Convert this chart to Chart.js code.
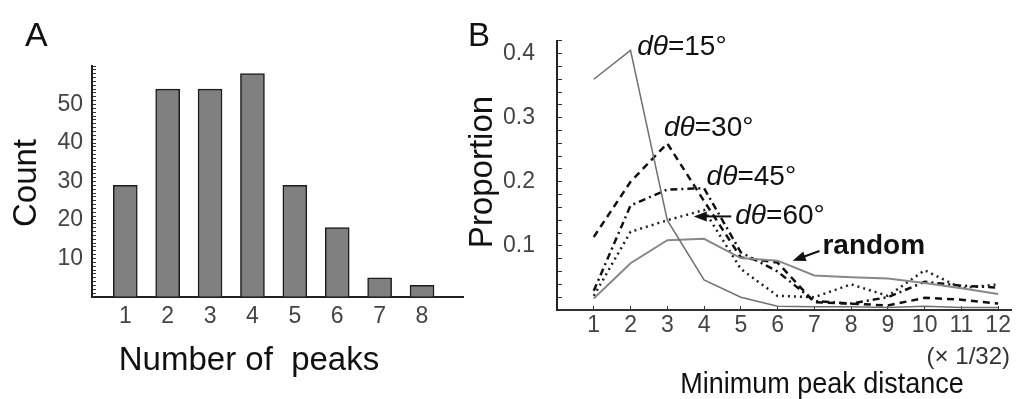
<!DOCTYPE html>
<html lang="en">

<head>
    <meta charset="UTF-8">
    <title>Peaks and peak distance</title>
    <script src="https://cdn.jsdelivr.net/npm/chart.js"></script>
    <style>
        body {
            margin: 0;
            background: #fff;
        }
        .stage {
            position: relative;
            width: 1017px;
            height: 399px;
            overflow: hidden;
            font-family: "Liberation Sans", Arial, sans-serif;
            color: #111;
        }
        canvas {
            position: absolute;
            top: 0;
        }
        .txt {
            position: absolute;
            line-height: 1;
            white-space: pre;
        }
        .rot {
            transform: translate(-50%, -50%) rotate(-90deg);
        }
    </style>
</head>

<body>
    <div class="stage">
        <canvas id="chartA" width="480" height="399" style="left:0"></canvas>
        <canvas id="chartB" width="562" height="399" style="left:455px"></canvas>

        <div class="txt" style="left:25px; top:17px; font-size:34px">A</div>
        <div class="txt" style="left:468px; top:18px; font-size:33px">B</div>
        <div class="txt rot" style="left:24px; top:183px; font-size:33px">Count</div>
        <div class="txt rot" style="left:480px; top:172px; font-size:33px">Proportion</div>
        <div class="txt" style="left:249px; top:342px; font-size:33px; transform:translateX(-50%)">Number of  peaks</div>
        <div class="txt" style="left:822px; top:368px; font-size:30px; transform:translateX(-50%) scaleX(0.9)">Minimum peak distance</div>
        <div class="txt" style="right:7px; top:344px; font-size:24px; color:#333">(× 1/32)</div>
    </div>

    <script>
        // Panel A: histogram of number of peaks
        const peaks = [1, 2, 3, 4, 5, 6, 7, 8];
        const counts = [29, 54, 54, 58, 29, 18, 5, 3];

        // Panel B: proportion vs minimum peak distance (x 1/32)
        const distances = [1, 2, 3, 4, 5, 6, 7, 8, 9, 10, 11, 12];
        const d15 = [0.36, 0.405, 0.14, 0.047, 0.02, 0.006, 0.005, 0.005, 0.004, 0.006, 0.004, 0.004];
        const d30 = [0.114, 0.2, 0.26, 0.17, 0.082, 0.074, 0.012, 0.01, 0.007, 0.019, 0.016, 0.01];
        const d45 = [0.03, 0.163, 0.188, 0.19, 0.09, 0.06, 0.014, 0.01, 0.02, 0.044, 0.038, 0.035];
        const d60 = [0.022, 0.122, 0.14, 0.156, 0.064, 0.022, 0.02, 0.04, 0.022, 0.062, 0.034, 0.04];
        const randomDist = [0.018, 0.073, 0.109, 0.111, 0.081, 0.077, 0.054, 0.051, 0.049, 0.042, 0.034, 0.025];

        // labels written on panel B, placed in data units
        const noteItalic = ['dθ', 'dθ', 'dθ', 'dθ', ''];
        const noteText = ['=15°', '=30°', '=45°', '=60°', 'random'];
        const noteX = [2.18, 2.91, 4.07, 4.85, 7.22];
        const noteY = [0.41, 0.284, 0.207, 0.146, 0.099];
        // arrows: [fromX, fromY, toX, toY]
        const arrows = [
            [4.74, 0.146, 3.72, 0.146],
            [7.14, 0.092, 6.41, 0.077]
        ];

        const tickFont = { family: 'Liberation Sans', size: 23 };
        const tickColor = '#444';

        new Chart(document.getElementById('chartA'), {
            type: 'bar',
            data: {
                datasets: [{
                    data: peaks.map((p, i) => ({ x: p, y: counts[i] })),
                    backgroundColor: '#808080',
                    borderColor: '#1c1c1c',
                    borderWidth: 1.5,
                    barThickness: 24
                }]
            },
            options: {
                responsive: false,
                animation: false,
                layout: { padding: { top: 66, right: 17, left: 0, bottom: 0 } },
                plugins: { legend: { display: false }, tooltip: { enabled: false } },
                scales: {
                    x: {
                        type: 'linear',
                        min: 0.762,
                        max: 8.42,
                        afterBuildTicks: s => { s.ticks = peaks.map(v => ({ value: v })); },
                        afterFit: s => { s.height = 102; },
                        grid: { display: false, drawTicks: false },
                        border: { color: '#222', width: 2 },
                        ticks: { font: tickFont, color: tickColor, padding: 6, maxRotation: 0 }
                    },
                    y: {
                        min: 0,
                        max: 60,
                        afterFit: s => { s.width = 92; },
                        grid: { drawOnChartArea: false, tickLength: -4, color: '#333' },
                        border: { color: '#222', width: 2 },
                        ticks: {
                            stepSize: 1,
                            autoSkip: false,
                            padding: 13,
                            font: tickFont,
                            color: tickColor,
                            callback: v => (v % 10 === 0 && v > 0 && v < 60) ? String(v) : ''
                        }
                    }
                }
            }
        });

        // draws the dθ labels and arrows of panel B
        const notesPlugin = {
            id: 'notes',
            afterDatasetsDraw(chart) {
                const { ctx, scales: { x, y } } = chart;
                ctx.save();
                ctx.fillStyle = '#111';
                ctx.strokeStyle = '#111';
                ctx.textBaseline = 'middle';
                ctx.textAlign = 'left';
                noteText.forEach((t, i) => {
                    let px = x.getPixelForValue(noteX[i]);
                    const py = y.getPixelForValue(noteY[i]);
                    if (noteItalic[i]) {
                        ctx.font = 'italic 28px "Liberation Sans"';
                        ctx.fillText(noteItalic[i], px, py);
                        px += ctx.measureText(noteItalic[i]).width;
                    }
                    ctx.font = (noteItalic[i] ? '' : 'bold ') + '28px "Liberation Sans"';
                    ctx.fillText(t, px, py);
                });
                arrows.forEach(a => {
                    const x1 = x.getPixelForValue(a[0]), y1 = y.getPixelForValue(a[1]);
                    const x2 = x.getPixelForValue(a[2]), y2 = y.getPixelForValue(a[3]);
                    const ang = Math.atan2(y2 - y1, x2 - x1);
                    ctx.lineWidth = 2;
                    ctx.beginPath();
                    ctx.moveTo(x1, y1);
                    ctx.lineTo(x2 - 8 * Math.cos(ang), y2 - 8 * Math.sin(ang));
                    ctx.stroke();
                    ctx.beginPath();
                    ctx.moveTo(x2, y2);
                    ctx.lineTo(x2 - 13 * Math.cos(ang) + 5 * Math.sin(ang), y2 - 13 * Math.sin(ang) - 5 * Math.cos(ang));
                    ctx.lineTo(x2 - 13 * Math.cos(ang) - 5 * Math.sin(ang), y2 - 13 * Math.sin(ang) + 5 * Math.cos(ang));
                    ctx.closePath();
                    ctx.fill();
                });
                ctx.restore();
            }
        };

        const lineSet = (values, color, width, dash) => ({
            data: distances.map((d, i) => ({ x: d, y: values[i] })),
            borderColor: color,
            borderWidth: width,
            borderDash: dash,
            pointRadius: 0,
            tension: 0,
            fill: false
        });

        new Chart(document.getElementById('chartB'), {
            type: 'line',
            data: {
                datasets: [
                    lineSet(d15, '#707070', 1.5, []),
                    lineSet(randomDist, '#888', 2, []),
                    lineSet(d30, '#111', 2.5, [7, 5]),
                    lineSet(d45, '#111', 2.5, [7, 4, 2, 4]),
                    lineSet(d60, '#222', 2.5, [2, 4])
                ]
            },
            options: {
                responsive: false,
                animation: false,
                layout: { padding: { top: 25, right: 2, left: 0, bottom: 0 } },
                plugins: { legend: { display: false }, tooltip: { enabled: false } },
                scales: {
                    x: {
                        type: 'linear',
                        min: 0,
                        max: 12.35,
                        afterBuildTicks: s => { s.ticks = distances.map(v => ({ value: v })); },
                        afterFit: s => { s.height = 89; },
                        grid: { drawOnChartArea: false, tickLength: -4, color: '#333' },
                        border: { color: '#333', width: 2 },
                        ticks: { font: tickFont, color: tickColor, padding: 6, maxRotation: 0, autoSkip: false }
                    },
                    y: {
                        min: 0,
                        max: 0.42,
                        afterFit: s => { s.width = 102; },
                        grid: { drawOnChartArea: false, tickLength: -5, color: '#333' },
                        border: { color: '#222', width: 2 },
                        ticks: {
                            stepSize: 0.02,
                            autoSkip: false,
                            padding: 27,
                            font: tickFont,
                            color: tickColor,
                            callback: v => {
                                const k = Math.round(v * 100);
                                return (k > 0 && k % 10 === 0) ? (k / 100).toFixed(1) : '';
                            }
                        }
                    }
                }
            },
            plugins: [notesPlugin]
        });
    </script>
</body>

</html>
